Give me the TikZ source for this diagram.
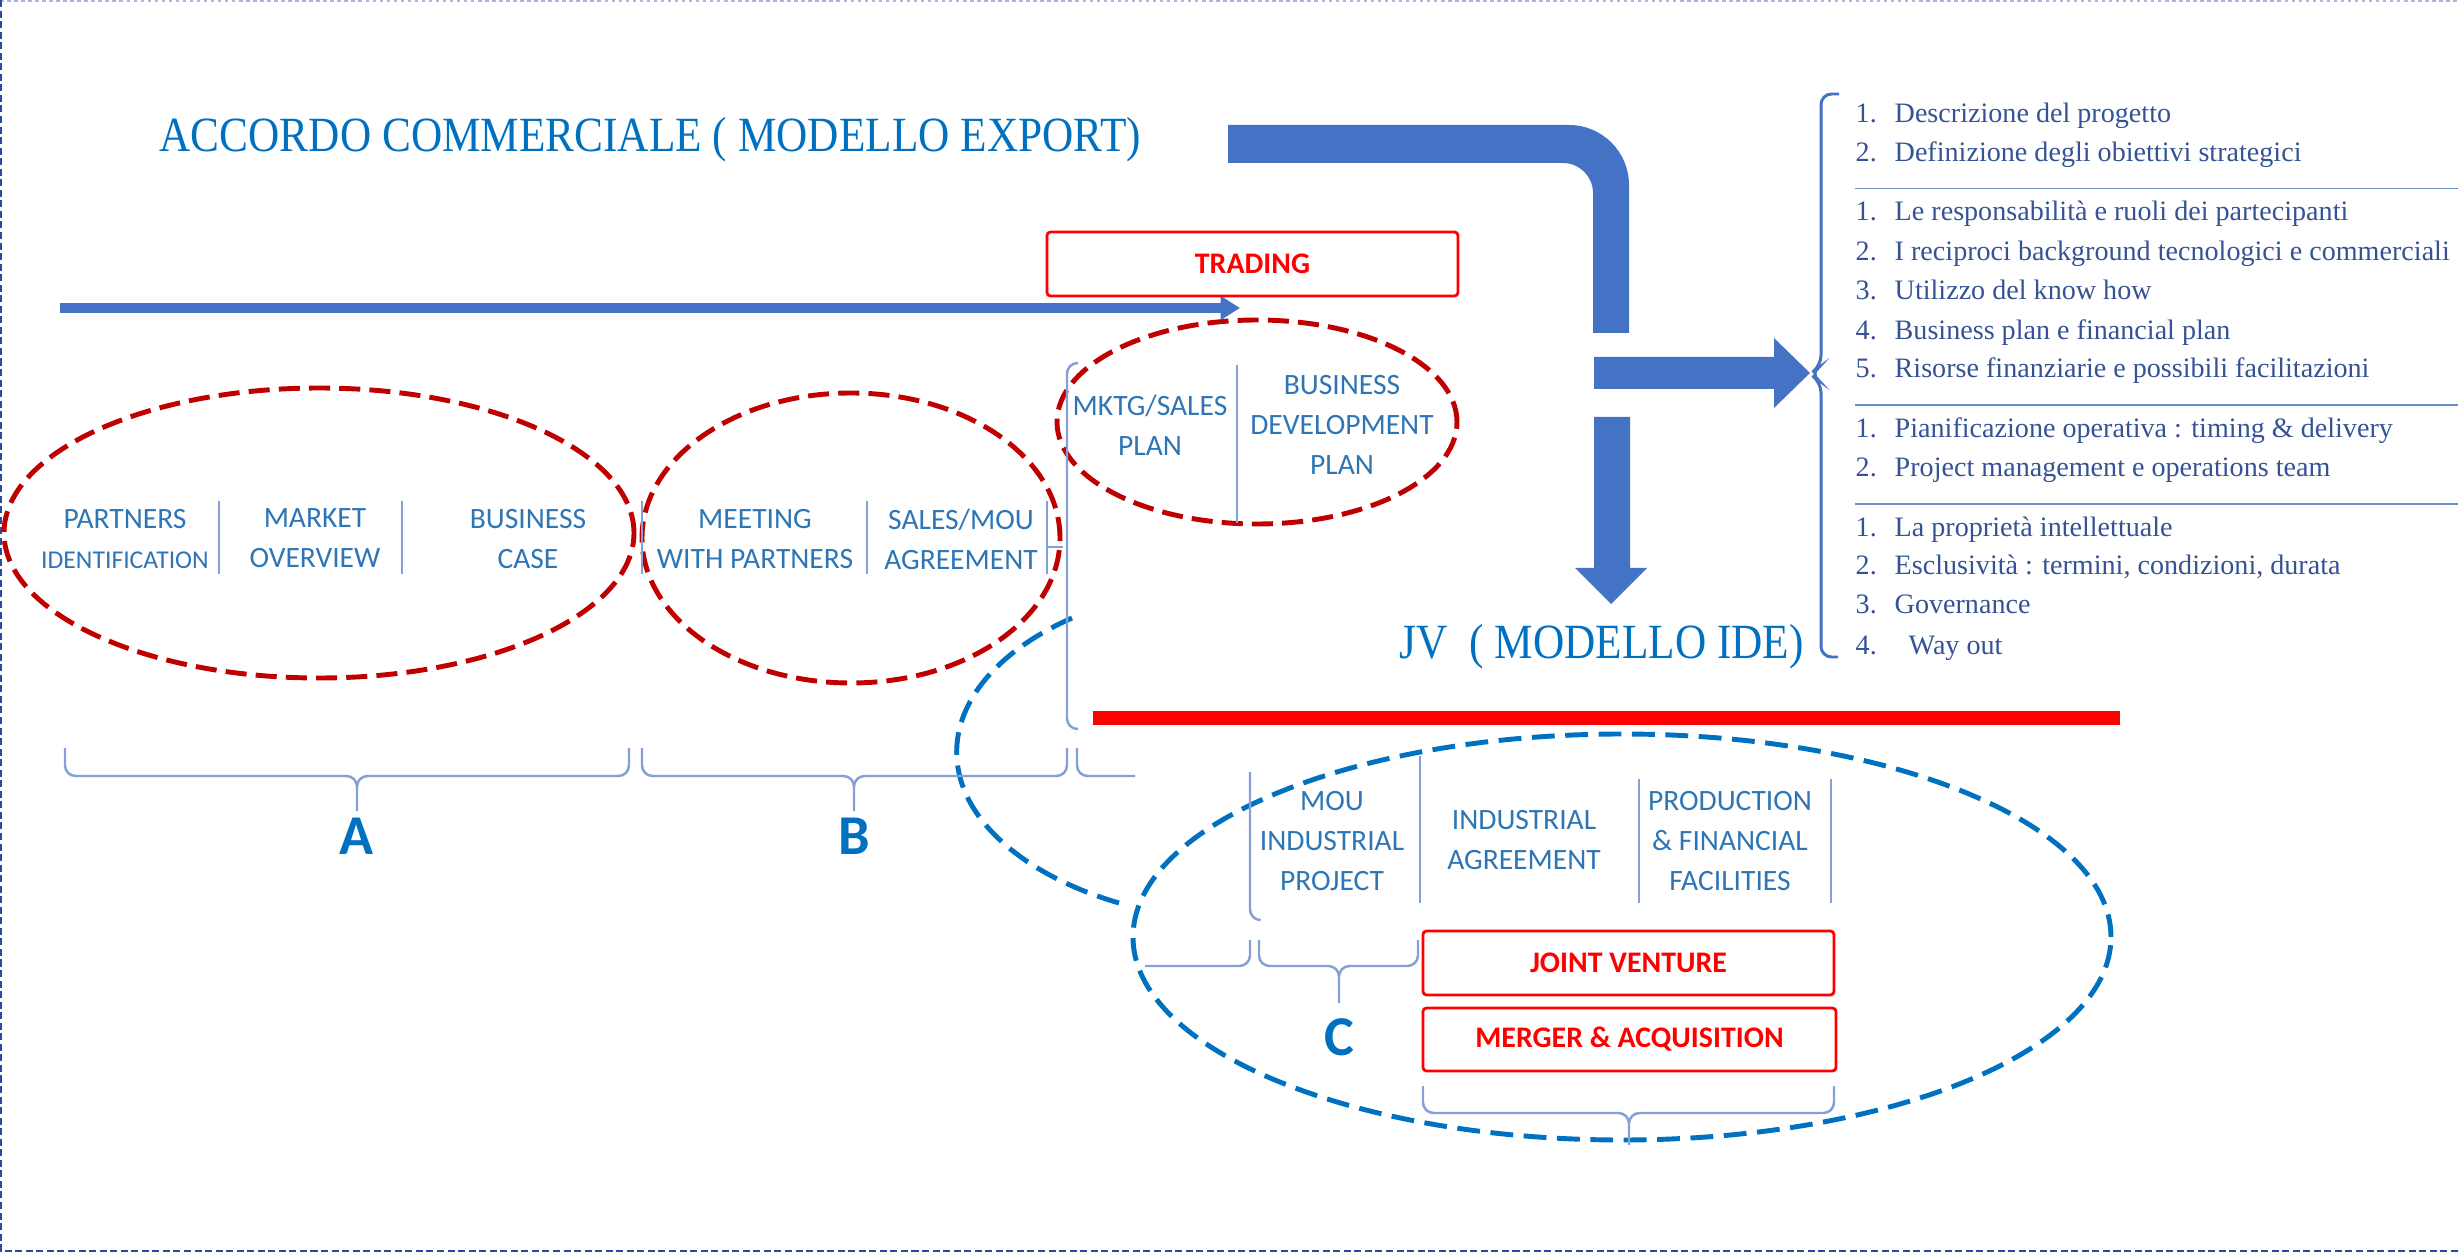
\documentclass[tikz,border=0pt]{standalone}
\usepackage{fontspec}
\setmainfont{Liberation Serif}
\newfontfamily\calibri{Carlito}
\newfontfamily\cambria{Liberation Serif}[FakeStretch=0.88]
\usepackage{xcolor}
\usepackage{tikz}
\usetikzlibrary{arrows.meta,positioning}

\definecolor{titleblue}{RGB}{0,112,192}
\definecolor{arrowblue}{RGB}{68,114,196}
\definecolor{labelblue}{RGB}{46,117,182}
\definecolor{sepblue}{RGB}{132,160,214}
\definecolor{dashred}{RGB}{192,0,0}
\definecolor{listblue}{RGB}{52,82,148}
\definecolor{bordblue}{RGB}{40,75,160}

\begin{document}
\begin{tikzpicture}[x=1cm,y=1cm,
  lbl/.style={text=labelblue, align=center, inner sep=0pt, font=\calibri\fontsize{8.4}{11.4}\selectfont},
  item/.style={anchor=base west, inner sep=0pt, text=listblue, font=\fontsize{8.0}{10}\selectfont},
  heading/.style={anchor=base west, inner sep=0pt, text=titleblue, font=\cambria\fontsize{14}{16}\selectfont},
  redbox/.style={draw=red, line width=0.8pt, rounded corners=1pt, text=red, inner sep=0pt, minimum width=4.11cm, minimum height=0.64cm, font=\calibri\bfseries\fontsize{8.5}{10}\selectfont},
  grouplabel/.style={text=titleblue, inner sep=0pt, font=\calibri\bfseries\fontsize{16}{18}\selectfont},
  divider/.style={draw=sepblue, line width=0.6pt},
  brc/.style={draw=sepblue, line width=0.7pt, rounded corners=3pt},
  listline/.style={draw=arrowblue!80, line width=0.5pt},
  reddash/.style={draw=dashred, line width=1.4pt, dash pattern=on 6pt off 2.6pt},
  bluedash/.style={draw=titleblue, line width=1.4pt, dash pattern=on 6.5pt off 3pt}]
\useasboundingbox (0,0) rectangle (24.58,-12.53);
\draw[bordblue!40, line width=0.4pt, dash pattern=on 1pt off 1pt] (0,-0.01) -- (24.58,-0.01);
\draw[bordblue, line width=0.6pt, dash pattern=on 2pt off 1pt] (0.01,0) -- (0.01,-12.51) -- (24.58,-12.51);

\draw[reddash] (3.19,-5.33) ellipse [x radius=3.15, y radius=1.45];
\draw[reddash] (8.51,-5.38) ellipse [x radius=2.09, y radius=1.45];
\draw[reddash] (12.57,-4.22) ellipse [x radius=2.00, y radius=1.02];
\draw[bluedash] (16.22,-9.37) ellipse [x radius=4.89, y radius=2.03];
\draw[bluedash] (10.72,-6.18) arc[start angle=128, end angle=244, x radius=3, y radius=1.7];

\node[heading] (export) at (1.59,-1.52) {ACCORDO COMMERCIALE ( MODELLO EXPORT)};
\node[heading] (jv) at (13.99,-6.59) {JV\ \ ( MODELLO IDE)};

\coordinate (tstart) at (0.60,-3.08);
\coordinate (tend) at (12.40,-3.08);
\draw[arrowblue, line width=2.85pt, -{Triangle[length=5.5pt,width=6.5pt]}] (tstart) -- (tend);
\node[redbox] (trading) at (12.525,-2.64) {TRADING};

\node[lbl] (partners) at (1.25,-5.39) {PARTNERS\\{\fontsize{7.3}{11.4}\selectfont IDENTIFICATION}};
\node[lbl] (market) at (3.15,-5.38) {MARKET\\OVERVIEW};
\node[lbl] (bcase) at (5.28,-5.39) {BUSINESS\\CASE};
\node[lbl] (meeting) at (7.55,-5.39) {MEETING\\WITH PARTNERS};
\node[lbl] (salesmou) at (9.61,-5.39) {SALES/MOU\\AGREEMENT};
\node[lbl] (mktg) at (11.50,-4.25) {MKTG/SALES\\PLAN};
\node[lbl] (bizdev) at (13.42,-4.25) {BUSINESS\\DEVELOPMENT\\PLAN};
\node[lbl] (mou) at (13.32,-8.41) {MOU\\INDUSTRIAL\\PROJECT};
\node[lbl] (indagr) at (15.24,-8.40) {INDUSTRIAL\\AGREEMENT};
\node[lbl] (prodfin) at (17.30,-8.41) {PRODUCTION\\\& FINANCIAL\\FACILITIES};

\draw[divider] (2.19,-5.01) -- (2.19,-5.74);
\draw[divider] (4.02,-5.01) -- (4.02,-5.74);
\draw[divider] (6.42,-5.01) -- (6.42,-5.74);
\draw[divider] (8.67,-5.01) -- (8.67,-5.74);
\draw[divider] (10.47,-5.01) -- (10.47,-5.74);
\draw[divider] (10.47,-5.47) -- (10.63,-5.47);
\draw[divider] (12.37,-3.65) -- (12.37,-5.23);
\draw[divider] (14.20,-7.56) -- (14.20,-9.03);
\draw[divider] (16.39,-7.79) -- (16.39,-9.03);
\draw[divider] (18.31,-7.79) -- (18.31,-9.03);
\draw[brc] (10.78,-3.63) -- (10.67,-3.63) -- (10.67,-7.29) -- (10.78,-7.29);
\draw[brc] (12.50,-7.72) -- (12.50,-9.20) -- (12.60,-9.20);

\draw[brc] (0.65,-7.48) |- (3.57,-7.76) -- (3.57,-8.11) (6.29,-7.48) |- (3.57,-7.76) -- (3.57,-8.11);
\draw[brc] (6.42,-7.48) |- (8.54,-7.76) -- (8.54,-8.11) (10.67,-7.48) |- (8.54,-7.76) -- (8.54,-8.11);
\draw[brc] (10.77,-7.48) |- (11.35,-7.76);
\draw[brc] (12.50,-9.40) |- (11.45,-9.66);
\draw[brc] (12.59,-9.40) |- (13.39,-9.66) -- (13.39,-10.03) (14.18,-9.40) |- (13.39,-9.66) -- (13.39,-10.03);
\draw[brc] (14.23,-10.86) |- (16.29,-11.13) -- (16.29,-11.45) (18.34,-10.86) |- (16.29,-11.13) -- (16.29,-11.45);
\node[grouplabel] (la) at (3.57,-8.36) {A};
\node[grouplabel] (lb) at (8.54,-8.36) {B};
\node[grouplabel] (lc) at (13.39,-10.37) {C};

\node[redbox] (jvbox) at (16.285,-9.63) {JOINT VENTURE};
\node[redbox, minimum width=4.13cm, minimum height=0.63cm] (mabox) at (16.295,-10.395) {MERGER \& ACQUISITION};
\fill[red] (10.93,-7.105) rectangle (21.20,-7.245);

\fill[arrowblue] (12.28,-1.25) -- (15.69,-1.25) arc[start angle=90, end angle=0, radius=0.6] -- (16.29,-3.33) -- (15.93,-3.33) -- (15.93,-1.93) arc[start angle=0, end angle=90, radius=0.3] -- (12.28,-1.63) -- cycle;
\fill[arrowblue] (15.94,-3.57) -- (17.74,-3.57) -- (17.74,-3.38) -- (18.10,-3.73) -- (17.74,-4.08) -- (17.74,-3.89) -- (15.94,-3.89) -- cycle;
\fill[arrowblue] (15.94,-4.17) -- (16.30,-4.17) -- (16.30,-5.68) -- (16.47,-5.68) -- (16.11,-6.04) -- (15.75,-5.68) -- (15.94,-5.68) -- cycle;
\draw[arrowblue, line width=0.85pt, rounded corners=3pt] (18.39,-0.94) -- (18.21,-0.94) -- (18.21,-3.66) -- (18.10,-3.74) -- (18.21,-3.82) -- (18.21,-6.57) -- (18.38,-6.57);

\node[item] (i1) at (18.55,-1.23) {\makebox[0.39cm][l]{1.}Descrizione del progetto};
\node[item] (i2) at (18.55,-1.62) {\makebox[0.39cm][l]{2.}Definizione degli obiettivi strategici};
\draw[listline] (18.55,-1.885) -- (24.58,-1.885);
\node[item] (r1) at (18.55,-2.21) {\makebox[0.39cm][l]{1.}Le responsabilità e ruoli dei partecipanti};
\node[item] (r2) at (18.55,-2.61) {\makebox[0.39cm][l]{2.}I reciproci background tecnologici e commerciali};
\node[item] (r3) at (18.55,-3.00) {\makebox[0.39cm][l]{3.}Utilizzo del know how};
\node[item] (r4) at (18.55,-3.40) {\makebox[0.39cm][l]{4.}Business plan e financial plan};
\node[item] (r5) at (18.55,-3.78) {\makebox[0.39cm][l]{5.}Risorse finanziarie e possibili facilitazioni};
\draw[listline] (18.55,-4.05) -- (24.58,-4.05);
\node[item] (p1) at (18.55,-4.38) {\makebox[0.39cm][l]{1.}Pianificazione operativa : timing \& delivery};
\node[item] (p2) at (18.55,-4.77) {\makebox[0.39cm][l]{2.}Project management e operations team};
\draw[listline] (18.55,-5.04) -- (24.58,-5.04);
\node[item] (g1) at (18.55,-5.36) {\makebox[0.39cm][l]{1.}La proprietà intellettuale};
\node[item] (g2) at (18.55,-5.75) {\makebox[0.39cm][l]{2.}Esclusività : termini, condizioni, durata};
\node[item] (g3) at (18.55,-6.14) {\makebox[0.39cm][l]{3.}Governance};
\node[item] (g4) at (18.55,-6.54) {\makebox[0.53cm][l]{4.}Way out};
\end{tikzpicture}
\end{document}
